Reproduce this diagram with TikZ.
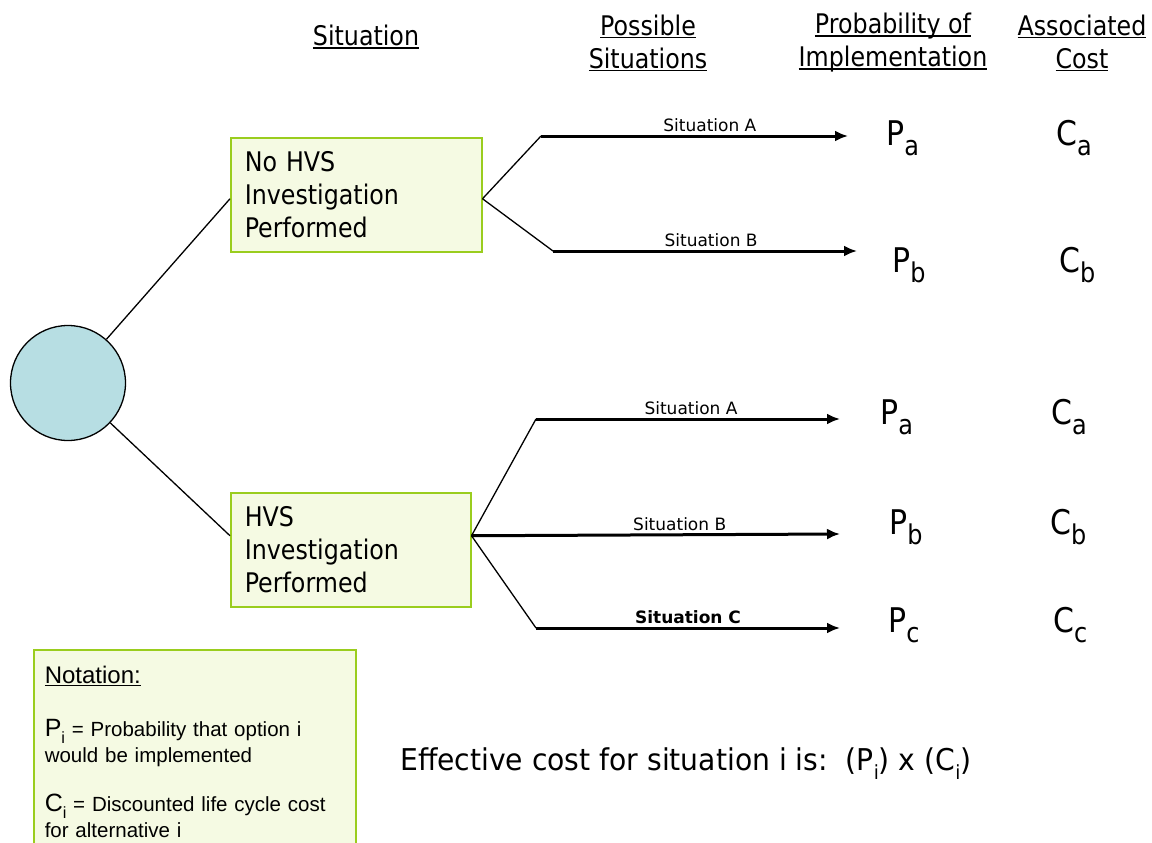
\documentclass[tikz,border=0pt]{standalone}
\usepackage{fontspec}
\setmainfont{DejaVu Sans}
\newfontfamily\estrecha{DejaVu Sans}[FakeStretch=0.88]
\newfontfamily\media{DejaVu Sans}[FakeStretch=0.94]
\newfontfamily\arial{Liberation Sans}
\usetikzlibrary{arrows.meta, positioning}
\definecolor{verdecaja}{HTML}{9ACD1E}
\definecolor{fondocaja}{HTML}{F5FAE3}
\definecolor{azulnodo}{HTML}{B7DEE3}
\colorlet{colBorde}{verdecaja}
\colorlet{colFondo}{fondocaja}
\colorlet{colNodo}{azulnodo}
\newcommand{\subidx}[2][0.8]{\raisebox{-0.3em}{\scalebox{#1}{#2}}}
\newcommand{\subrayado}[1]{\setbox0\hbox{#1}\rlap{\rule[-3.2pt]{\wd0}{1.8pt}}\box0}
\tikzset{
  cajaSituacion/.style={
    draw=colBorde, line width=1.5pt, fill=colFondo,
    minimum height=114pt, inner xsep=14pt, align=left,
    font=\estrecha\fontsize{27}{33}\selectfont, anchor=north west
  },
  cajaNotacion/.style={
    draw=colBorde, line width=1.5pt, fill=colFondo,
    minimum width=322pt, text width=300pt, inner xsep=11pt, inner ysep=16pt,
    align=left, anchor=north west, font=\arial\fontsize{20.5}{26}\selectfont
  },
  nodoRaiz/.style={circle, draw=black, line width=1.3pt, fill=colNodo,
    minimum size=115pt, inner sep=0pt},
  rama/.style={line width=1.3pt},
  flecha/.style={-{Latex[length=13pt,width=11pt]}, line width=3pt},
  etiquetaRama/.style={font=\fontsize{17}{20}\selectfont, above, inner sep=3pt},
  encabezado/.style={font=\estrecha\fontsize{27}{33}\selectfont, align=center},
  resultado/.style={font=\estrecha\fontsize{34}{40}\selectfont, anchor=base west,
    inner sep=0pt},
}
\begin{document}
\begin{tikzpicture}[x=1pt, y=-1pt]
    \useasboundingbox (0,0) rectangle (1152,843);
    \node[encabezado] (hSituacion) at (366,37) {\subrayado{Situation}};
    \node[encabezado] (hPosibles) at (648,43) {\subrayado{Possible}\\\subrayado{Situations}};
    \node[encabezado] (hProb) at (893,43) {\subrayado{Probability of}\\\subrayado{Implementation}};
    \node[encabezado] (hCosto) at (1082,43) {\subrayado{Associated}\\\subrayado{Cost}};

    \node[nodoRaiz] (raiz) at (68,383) {};
    \node[cajaSituacion, minimum width=251pt, text width=223pt] (sinHVS) at (230,137)
      {No HVS\\Investigation\\Performed};
    \node[cajaSituacion, minimum width=240pt, text width=212pt] (conHVS) at (230,492)
      {HVS\\Investigation\\Performed};
    \draw[rama] (raiz) -- ([yshift=-4pt]sinHVS.west);
    \draw[rama] (raiz) -- ([yshift=14pt]conHVS.west);

    \coordinate (kA1) at (541,136);
    \coordinate (fA1) at (848,136);
    \coordinate (kB1) at (553,251);
    \coordinate (fB1) at (857,251);
    \coordinate (kA2) at (536,419);
    \coordinate (fA2) at (840,419);
    \coordinate (fB2) at (840,534);
    \coordinate (kC2) at (536,628);
    \coordinate (fC2) at (840,628);

    \draw[rama] ([yshift=-4pt]sinHVS.east) -- (kA1);
    \draw[rama] ([yshift=-4pt]sinHVS.east) -- (kB1);
    \draw[flecha] (kA1) -- node[etiquetaRama, pos=0.55] {Situation A} (fA1);
    \draw[flecha] (kB1) -- node[etiquetaRama, pos=0.52] {Situation B} (fB1);
    \draw[rama] ([yshift=14pt]conHVS.east) -- (kA2);
    \draw[rama] ([yshift=14pt]conHVS.east) -- (kC2);
    \draw[flecha] (kA2) -- node[etiquetaRama, pos=0.51] {Situation A} (fA2);
    \draw[flecha] ([yshift=14pt]conHVS.east) -- node[etiquetaRama, pos=0.565] {Situation B} (fB2);
    \draw[flecha] (kC2) -- node[etiquetaRama, pos=0.50] {\bfseries Situation C} (fC2);

    \node[resultado] (pA1) at (886,145) {P\subidx{a}};
    \node[resultado] (cA1) at (1056,145) {C\subidx{a}};
    \node[resultado] (pB1) at (892,272) {P\subidx{b}};
    \node[resultado] (cB1) at (1059,272) {C\subidx{b}};
    \node[resultado] (pA2) at (880,424) {P\subidx{a}};
    \node[resultado] (cA2) at (1051,424) {C\subidx{a}};
    \node[resultado] (pB2) at (889,534) {P\subidx{b}};
    \node[resultado] (cB2) at (1050,534) {C\subidx{b}};
    \node[resultado] (pC2) at (888,632) {P\subidx{c}};
    \node[resultado] (cC2) at (1053,632) {C\subidx{c}};

    \node[cajaNotacion] (notacion) at (33,649)
      {{\fontsize{24}{26}\selectfont\subrayado{Notation:}}\\[27pt]
       {\fontsize{25}{26}\selectfont P\subidx[0.65]{i}} = Probability that option i\\
       would be implemented\\[23pt]
       {\fontsize{25}{26}\selectfont C\subidx[0.65]{i}} = Discounted life cycle cost\\
       for alternative i};

    \node[anchor=base west, inner sep=0pt, font=\media\fontsize{30}{36}\selectfont] (costo) at (400,770)
      {Effective cost for situation i is:~~(P\subidx[0.65]{i}) x (C\subidx[0.65]{i})};
  \end{tikzpicture}
\end{document}
